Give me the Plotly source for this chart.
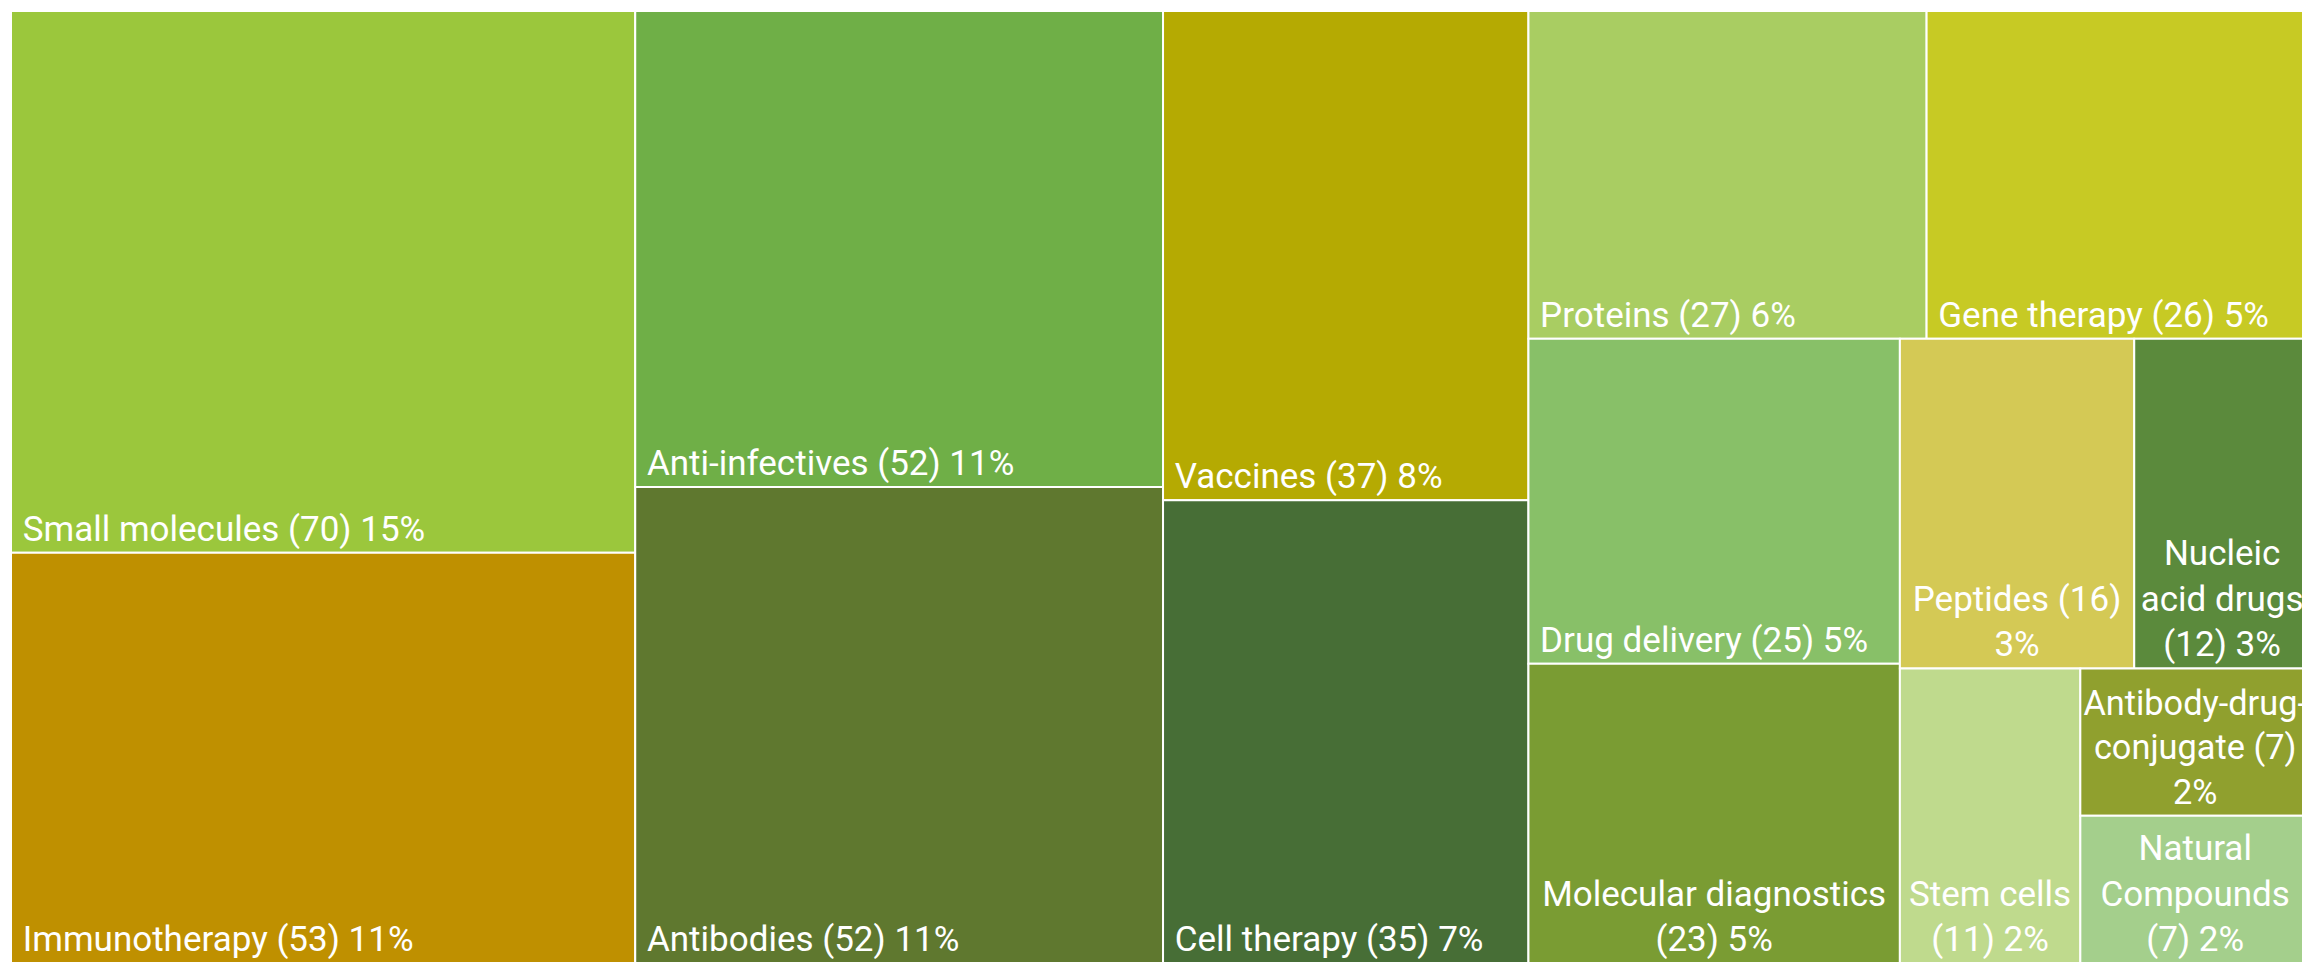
import plotly.graph_objects as go

categories = ["Small molecules", "Immunotherapy", "Anti-infectives", "Antibodies",
              "Vaccines", "Cell therapy", "Proteins", "Gene therapy", "Drug delivery",
              "Molecular diagnostics", "Peptides", "Nucleic acid drugs", "Stem cells",
              "Antibody-drug-conjugate", "Natural Compounds"]
counts = [70, 53, 52, 52, 37, 35, 27, 26, 25, 23, 16, 12, 11, 7, 7]
shares = ["15%", "11%", "11%", "11%", "8%", "7%", "6%", "5%", "5%", "5%", "3%", "3%", "2%", "2%", "2%"]
# wrapped display labels for the narrow tiles (centered in the reference)
wrapped = {
    "Molecular diagnostics": "Molecular diagnostics<br>(23) 5%",
    "Peptides": "Peptides (16)<br>3%",
    "Nucleic acid drugs": "Nucleic<br>acid drugs<br>(12) 3%",
    "Stem cells": "Stem cells<br>(11) 2%",
    "Antibody-drug-conjugate": "Antibody-drug-<br>conjugate (7)<br>2%",
    "Natural Compounds": "Natural<br>Compounds<br>(7) 2%",
}
colors = ["#9bc73c", "#bf9000", "#6faf47", "#5f782f", "#b5aa02", "#476e36",
          "#a9cd62", "#c7ca24", "#88c068", "#7a9c33", "#d4c955", "#5b8a3c",
          "#bfda8d", "#90a02e", "#a4cf8c"]

left_text = []
center_text = []
for c, n, s in zip(categories, counts, shares):
    if c in wrapped:
        left_text.append(" ")
        center_text.append(wrapped[c])
    else:
        left_text.append("\u00a0" + f"{c} ({n}) {s}")
        center_text.append(" ")

parents = [""] * len(categories)
font = dict(family="Roboto", size=35, color="white")

fig = go.Figure()
fig.add_trace(go.Treemap(
    labels=categories, parents=parents, values=counts,
    marker=dict(colors=colors, line=dict(color="white", width=2), pad=dict(t=0, l=0, r=0, b=0)),
    texttemplate=left_text, textposition="bottom left",
    textfont=font, tiling=dict(squarifyratio=1, pad=0),
    pathbar=dict(visible=False), hoverinfo="label+value", sort=True,
))
fig.add_trace(go.Treemap(
    labels=categories, parents=parents, values=counts,
    marker=dict(colors=["rgba(0,0,0,0)"] * len(categories), line=dict(width=0), pad=dict(t=0, l=0, r=0, b=0)),
    texttemplate=center_text, textposition="bottom center",
    textfont=font, tiling=dict(squarifyratio=1, pad=0),
    pathbar=dict(visible=False), hoverinfo="skip", sort=True,
))
fig.update_layout(
    width=2302, height=955,
    margin=dict(l=3, r=0, t=3, b=0),
    paper_bgcolor="white",
    uniformtext=dict(minsize=10),
)
fig.write_html("out.html")
